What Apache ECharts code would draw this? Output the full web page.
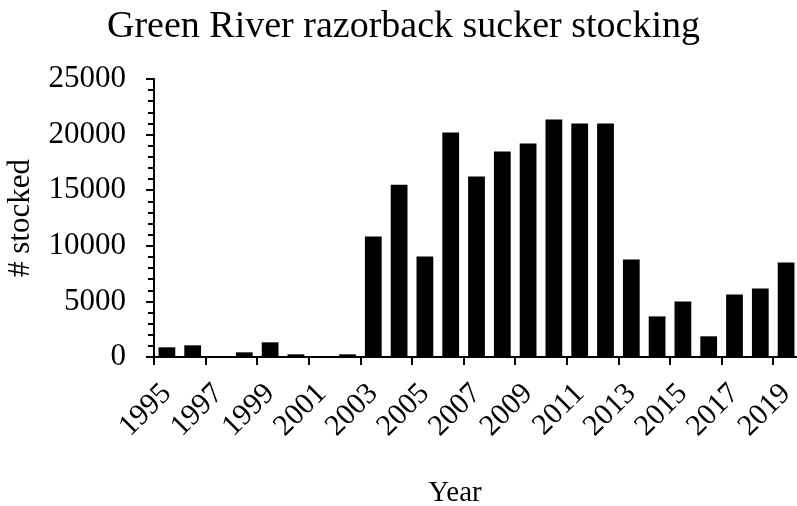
<!DOCTYPE html>
<html>
<head>
<meta charset="utf-8">
<script src="https://cdn.jsdelivr.net/npm/echarts@6/dist/echarts.min.js"></script>
<style>
  html, body { margin: 0; padding: 0; background: #fff; }
  #chart { width: 797px; height: 506px; }
</style>
</head>
<body>
<div id="chart"></div>
<script>
// 每年放流数量
const years = ['1995', '1996', '1997', '1998', '1999', '2000', '2001', '2002', '2003', '2004',
  '2005', '2006', '2007', '2008', '2009', '2010', '2011', '2012', '2013', '2014',
  '2015', '2016', '2017', '2018', '2019'];
const stocked = [870, 1050, 0, 420, 1320, 240, 0, 240, 10840, 15500,
  9040, 20180, 16230, 18470, 19190, 21350, 20990, 20990, 8770, 3650,
  5000, 1860, 5630, 6170, 8500];
const yTicks = [0, 5000, 10000, 15000, 20000, 25000];

const font = 'Liberation Serif, Times New Roman, serif';
const chart = echarts.init(document.getElementById('chart'));

const option = {
  animation: false,
  title: {
    text: 'Green River razorback sucker stocking',
    left: 102,
    top: 3,
    textStyle: { fontFamily: font, fontSize: 38, fontWeight: 'normal', color: '#000' }
  },
  grid: {
    left: 154, top: 79, width: 645, bottom: 149,
    containLabel: false,
    outerBoundsMode: 'none'
  },
  xAxis: {
    type: 'category',
    data: years,
    name: 'Year',
    nameLocation: 'middle',
    nameGap: 122,
    // 标题略偏左
    nameTextStyle: { fontFamily: font, fontSize: 29, color: '#000', padding: [0, 43, 0, 0] },
    axisLine: { lineStyle: { color: '#000', width: 2 } },
    axisTick: { show: true, length: 8, lineStyle: { color: '#000', width: 2 } },
    axisLabel: {
      interval: 1,
      rotate: 45,
      margin: 32,
      padding: [6, 0, 0, 0],
      fontFamily: font,
      fontSize: 30,
      color: '#000'
    }
  },
  yAxis: {
    type: 'value',
    min: yTicks[0],
    max: yTicks[yTicks.length - 1],
    interval: 5000,
    name: '# stocked',
    nameLocation: 'middle',
    nameGap: 118,
    nameTextStyle: { fontFamily: font, fontSize: 31, color: '#000' },
    axisLine: { show: true, lineStyle: { color: '#000', width: 2 } },
    axisTick: { show: true, length: 8, lineStyle: { color: '#000', width: 2 } },
    minorTick: { show: true, splitNumber: 5, length: 6, lineStyle: { color: '#000', width: 2 } },
    splitLine: { show: false },
    axisLabel: {
      margin: 28,
      fontFamily: font,
      fontSize: 31,
      color: '#000',
      formatter: v => String(v)
    }
  },
  series: [
    {
      type: 'bar',
      data: stocked,
      barCategoryGap: '35%',
      itemStyle: { color: '#000' }
    }
  ]
};

chart.setOption(option);
</script>
</body>
</html>
